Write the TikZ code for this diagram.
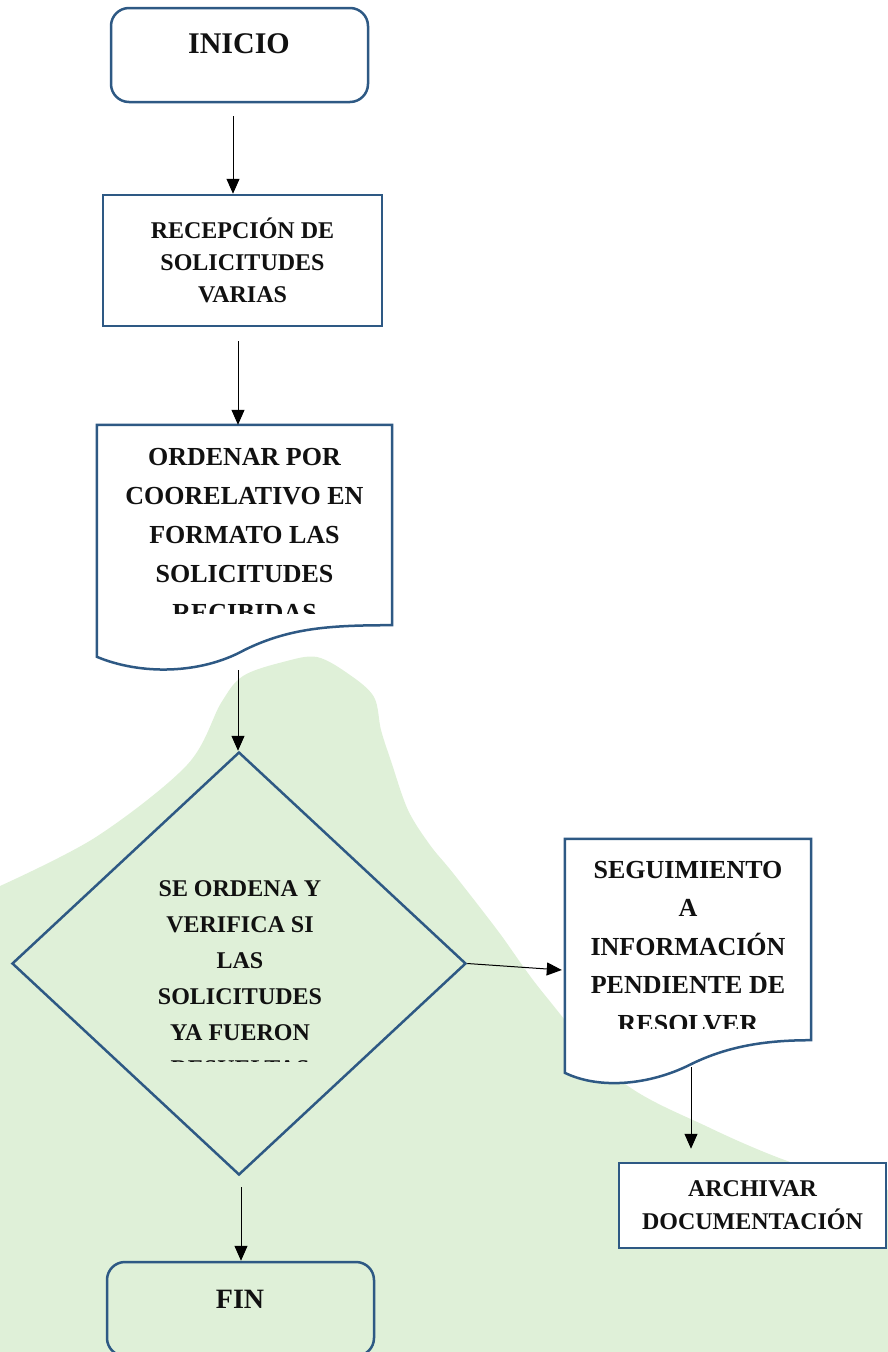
\documentclass[tikz,border=0pt]{standalone}
\usepackage{fontspec}
\setmainfont{Liberation Serif}
\usetikzlibrary{shapes.geometric,arrows.meta,calc}
\definecolor{boxblue}{RGB}{46,89,132}
\definecolor{blobgreen}{RGB}{223,240,216}
\definecolor{ink}{RGB}{17,17,17}
\begin{document}
\begin{tikzpicture}[x=1pt,y=-1pt,
  >={Triangle[length=15pt,width=13pt]},
  arr/.style={->,line width=1pt,black},
  lineblue/.style={draw=boxblue,line width=2.5pt,inner sep=0pt},
  rbox/.style={lineblue,rounded corners=18pt},
  sbox/.style={lineblue,fill=white,align=center,text=ink},
  txt/.style={align=center,text=ink,inner sep=0pt}]
  \path[use as bounding box,clip] (0,0) rectangle (888,1352);
  % fondo verde
  \fill[blobgreen] plot[smooth,tension=0.55] coordinates {(0,886) (96,837) (187,765) (221,703) (243,676) (283,662) (317,657) (350,675) (374,697) (381,730) (391,761) (408,810) (430,845) (453,873) (498,931) (544,994) (620,1080) (708,1127) (793,1163) (888,1190)} -- (888,1352) -- (0,1352) -- cycle;

  \node[rbox,minimum width=257pt,minimum height=94pt] (inicio) at (239.5,55) {};
  \node[txt,font=\fontsize{30}{36}\selectfont\bfseries] (tinicio) at (239,44) {INICIO};

  \node[sbox,minimum width=279pt,minimum height=131pt,font=\fontsize{24}{32}\selectfont\bfseries] (recep) at (242.5,260.5) {RECEPCIÓN DE\\SOLICITUDES\\VARIAS};

  \node[minimum width=295pt,minimum height=200pt,inner sep=0pt] (orden) at (244.5,525) {};
  \filldraw[lineblue,fill=white] (orden.south east) -- (orden.north east) -- (orden.north west) -- ++(0,232)
    .. controls +(43,18) and +(-45,25) .. ++(148,-7)
    .. controls +(45,-22) and +(-62,0) .. (orden.south east) -- cycle;
  \begin{scope}
    \clip (orden.north west) rectangle ($(orden.south east)+(0,-12)$);
    \node[txt,font=\fontsize{26}{39}\selectfont\bfseries] (torden) at (244.5,535.5) {ORDENAR POR\\COORELATIVO EN\\FORMATO LAS\\SOLICITUDES\\RECIBIDAS};
  \end{scope}

  \node[diamond,lineblue,minimum width=454pt,minimum height=423pt] (dec) at (239,963.5) {};
  \begin{scope}
    \clip (dec.west |- dec.north) rectangle ($(dec.east)+(0,97.5)$);
    \node[txt,font=\fontsize{24}{36}\selectfont\bfseries] (tdec) at (240,979) {SE ORDENA Y\\VERIFICA SI\\LAS\\SOLICITUDES\\YA FUERON\\RESUELTAS};
  \end{scope}

  \node[minimum width=246pt,minimum height=201pt,inner sep=0pt] (seg) at (688,939.5) {};
  \filldraw[lineblue,fill=white] (seg.south east) -- (seg.north east) -- (seg.north west) -- ++(0,234)
    .. controls +(35,17) and +(-40,20) .. ++(125,-8)
    .. controls +(40,-20) and +(-41,0) .. (seg.south east) -- cycle;
  \begin{scope}
    \clip (seg.north west) rectangle ($(seg.south east)+(0,-12)$);
    \node[txt,font=\fontsize{26}{38.5}\selectfont\bfseries] (tseg) at (688,947) {SEGUIMIENTO\\A\\INFORMACIÓN\\PENDIENTE DE\\RESOLVER};
  \end{scope}

  \node[sbox,minimum width=267pt,minimum height=85pt,font=\fontsize{24}{33}\selectfont\bfseries] (arch) at (752.5,1205.5) {ARCHIVAR\\DOCUMENTACIÓN};

  \node[rbox,minimum width=267pt,minimum height=94pt] (fin) at (240.5,1309) {};
  \node[txt,font=\fontsize{28}{34}\selectfont\bfseries] (tfin) at (240,1299) {FIN};

  % conectores
  \coordinate (a1) at ([shift={(-6.5,13)}]inicio.south);
  \draw[arr] (a1) -- (a1 |- recep.north);
  \coordinate (a2) at ([shift={(-4.5,14)}]recep.south);
  \draw[arr] (a2) -- (a2 |- orden.north);
  \coordinate (a3) at ([shift={(-6.5,45)}]orden.south);
  \draw[arr] (a3) -- (a3 |- dec.north);
  \coordinate (e4) at ([shift={(-3,30.5)}]seg.west);
  \draw[arr] (dec.east) -- (e4);
  \coordinate (a5) at ([shift={(3,27)}]seg.south);
  \draw[arr] (a5) -- ($(a5 |- arch.north)+(0,-13)$);
  \coordinate (a6) at ([shift={(2,11)}]dec.south);
  \draw[arr] (a6) -- (a6 |- fin.north);
\end{tikzpicture}
\end{document}
